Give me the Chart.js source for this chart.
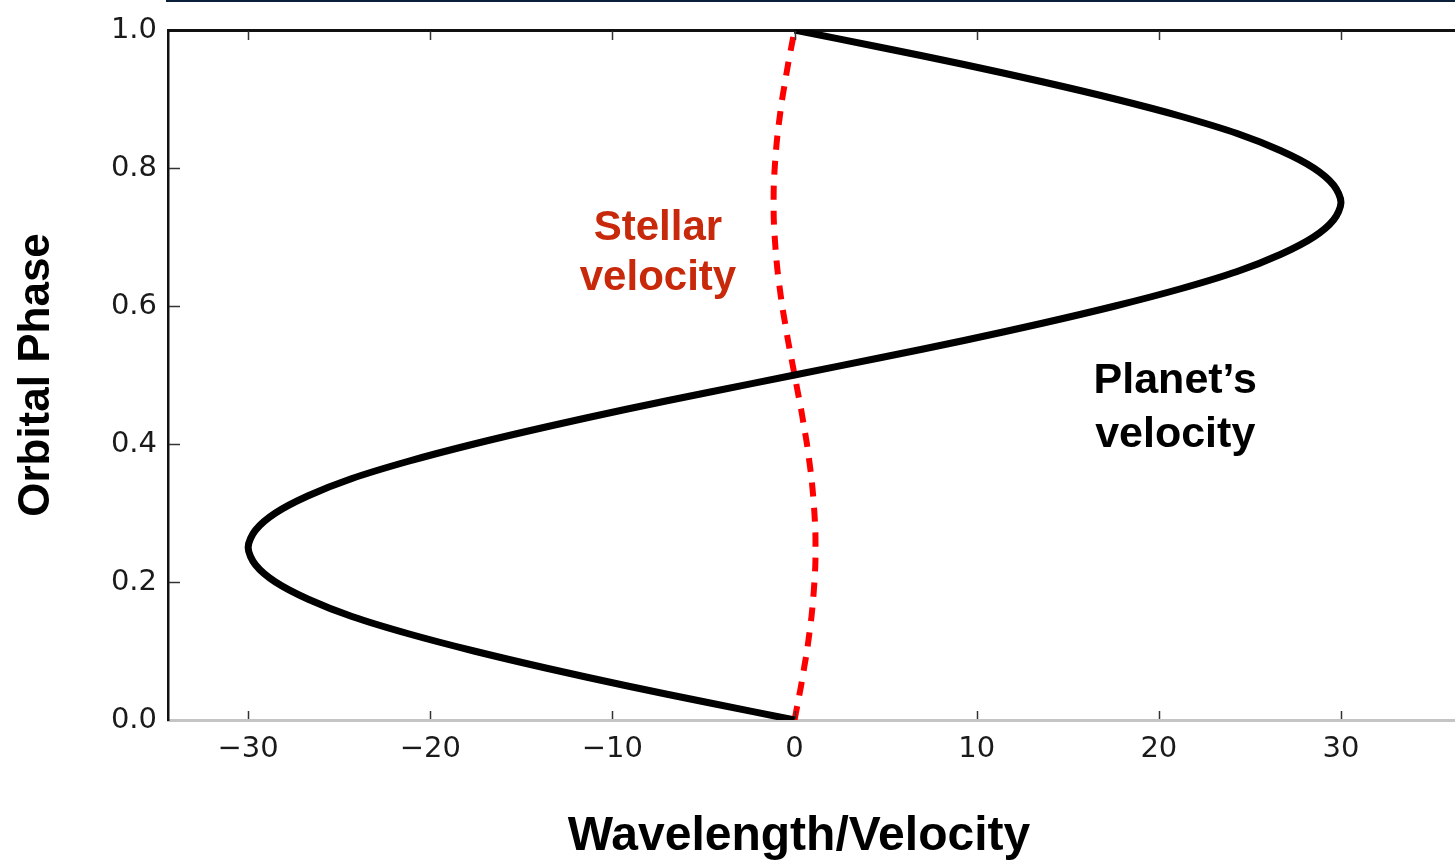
<!DOCTYPE html>
<html><head><meta charset="utf-8">
<script src="https://cdn.jsdelivr.net/npm/chart.js@4"></script>
<style>html,body{margin:0;padding:0;background:#fff;overflow:hidden}#wrap{width:1455px;height:862px}</style>
</head><body><div id="wrap"><canvas id="c" width="1455" height="862"></canvas></div>
<script>
// Orbital phase samples (y) and velocities (x)
const phase = [0,0.025,0.05,0.075,0.1,0.125,0.15,0.175,0.2,0.225,0.25,0.275,0.3,0.325,0.35,0.375,0.4,0.425,0.45,0.475,0.5,0.525,0.55,0.575,0.6,0.625,0.65,0.675,0.7,0.725,0.75,0.775,0.8,0.825,0.85,0.875,0.9,0.925,0.95,0.975,1.0];
const planetVelocity = [0,-4.7,-9.3,-13.6,-17.6,-21.2,-24.3,-26.7,-28.5,-29.6,-30.0,-29.6,-28.5,-26.7,-24.3,-21.2,-17.6,-13.6,-9.3,-4.7,0,4.7,9.3,13.6,17.6,21.2,24.3,26.7,28.5,29.6,30.0,29.6,28.5,26.7,24.3,21.2,17.6,13.6,9.3,4.7,0];
const stellarVelocity = [0,0.18,0.36,0.52,0.68,0.81,0.93,1.02,1.09,1.14,1.15,1.14,1.09,1.02,0.93,0.81,0.68,0.52,0.36,0.18,0,-0.18,-0.36,-0.52,-0.68,-0.81,-0.93,-1.02,-1.09,-1.14,-1.15,-1.14,-1.09,-1.02,-0.93,-0.81,-0.68,-0.52,-0.36,-0.18,0];
const xTickValues = [-30,-20,-10,0,10,20,30];
const xTickLabels = ['\u221230','\u221220','\u221210','0','10','20','30'];
const yTickValues = [0,0.2,0.4,0.6,0.8,1.0];
const yTickLabels = ['0.0','0.2','0.4','0.6','0.8','1.0'];
const xAxisTitle = 'Wavelength/Velocity';
const yAxisTitle = 'Orbital Phase';
const stellarLabel = ['Stellar','velocity'];
const planetLabel = ['Planet\u2019s','velocity'];

const planetPts = phase.map((p,i)=>({x:planetVelocity[i], y:p}));
const stellarPts = phase.map((p,i)=>({x:stellarVelocity[i], y:p}));

const decor = {
  id:'decor',
  afterDatasetsDraw(chart){
    const {ctx, chartArea:a, scales} = chart;
    const x = scales.x, y = scales.y;
    ctx.save();
    ctx.strokeStyle = '#333'; ctx.lineWidth = 1.5;
    const seg=(x1,y1,x2,y2)=>{ctx.beginPath();ctx.moveTo(x1,y1);ctx.lineTo(x2,y2);ctx.stroke();};
    xTickValues.forEach(v=>{
      const px = Math.round(x.getPixelForValue(v))+0.5;
      seg(px,a.bottom-1,px,a.bottom-9);
      seg(px,a.top+1,px,a.top+10);
    });
    yTickValues.forEach(v=>{
      const py = Math.round(y.getPixelForValue(v))+0.5;
      if (v>0 && v<1) seg(a.left+1,py,a.left+12,py);
    });
    ctx.restore();
  },
  afterDraw(chart){
    const {ctx, chartArea:a, scales} = chart;
    const x = scales.x, y = scales.y;
    ctx.save();
    // thin dark rule at the very top of the slide
    ctx.strokeStyle = '#0b1f3a'; ctx.lineWidth = 3;
    ctx.beginPath(); ctx.moveTo(a.left-2,0.5); ctx.lineTo(chart.width,0.5); ctx.stroke();
    ctx.textAlign = 'center'; ctx.textBaseline = 'alphabetic';
    // annotations
    ctx.font = 'bold 42px "Liberation Sans", Arial, sans-serif';
    ctx.fillStyle = '#c8290b';
    const sx = x.getPixelForValue(-7.5);
    ctx.fillText(stellarLabel[0], sx, y.getPixelForValue(0.6957));
    ctx.fillText(stellarLabel[1], sx, y.getPixelForValue(0.6232));
    ctx.fillStyle = '#000';
    ctx.font = 'bold 43px "Liberation Sans", Arial, sans-serif';
    const px = x.getPixelForValue(20.9);
    ctx.fillText(planetLabel[0], px, y.getPixelForValue(0.4739));
    ctx.fillText(planetLabel[1], px, y.getPixelForValue(0.3957));
    // x axis title
    ctx.font = 'bold 48px "Liberation Sans", Arial, sans-serif';
    ctx.fillText(xAxisTitle, 799, 850);
    ctx.restore();
  }
};

new Chart(document.getElementById('c'), {
  type: 'scatter',
  data: {
    datasets: [
      {label:'Planet', data: planetPts, showLine:true, borderColor:'#000', borderWidth:7, pointRadius:0, tension:0.3, fill:false},
      {label:'Star', data: stellarPts, showLine:true, borderColor:'#ff0000', borderWidth:6, borderDash:[14,11], pointRadius:0, tension:0.3, fill:false}
    ]
  },
  options: {
    responsive:false, animation:false, devicePixelRatio:1,
    layout:{padding:{top:30,left:0,right:0,bottom:0}},
    plugins:{legend:{display:false}, tooltip:{enabled:false}},
    scales:{
      x:{
        type:'linear', position:'bottom', min:-34.4, max:36.26,
        afterBuildTicks(s){ s.ticks = xTickValues.map(v=>({value:v})); },
        afterFit(s){ s.height = 142; },
        grid:{display:false, drawTicks:false},
        border:{display:true, color:'#c4c4c4', width:3},
        ticks:{padding:12, color:'#1a1a1a', font:{family:'"DejaVu Sans", sans-serif', size:29},
          callback:(v)=>{const i=xTickValues.indexOf(v); return i>=0?xTickLabels[i]:'';}}
      },
      x2:{
        type:'linear', position:'top', min:-34.4, max:36.26,
        afterFit(s){ s.height = 0; },
        grid:{display:false, drawTicks:false},
        border:{display:true, color:'#111', width:3},
        ticks:{display:false}
      },
      y:{
        type:'linear', position:'left', min:0, max:1,
        afterBuildTicks(s){ s.ticks = yTickValues.map(v=>({value:v})); },
        afterFit(s){ s.width = 168; },
        grid:{display:false, drawTicks:false},
        border:{display:true, color:'#111', width:2.5},
        ticks:{padding:11, color:'#1a1a1a', font:{family:'"DejaVu Sans", sans-serif', size:29},
          callback:(v)=>{const i=yTickValues.indexOf(v); return i>=0?yTickLabels[i]:'';}},
        title:{display:true, text:yAxisTitle, color:'#000', padding:{top:10,bottom:0},
          font:{family:'"Liberation Sans", Arial, sans-serif', size:44, weight:'bold'}}
      }
    }
  },
  plugins:[decor]
});
</script></body></html>
